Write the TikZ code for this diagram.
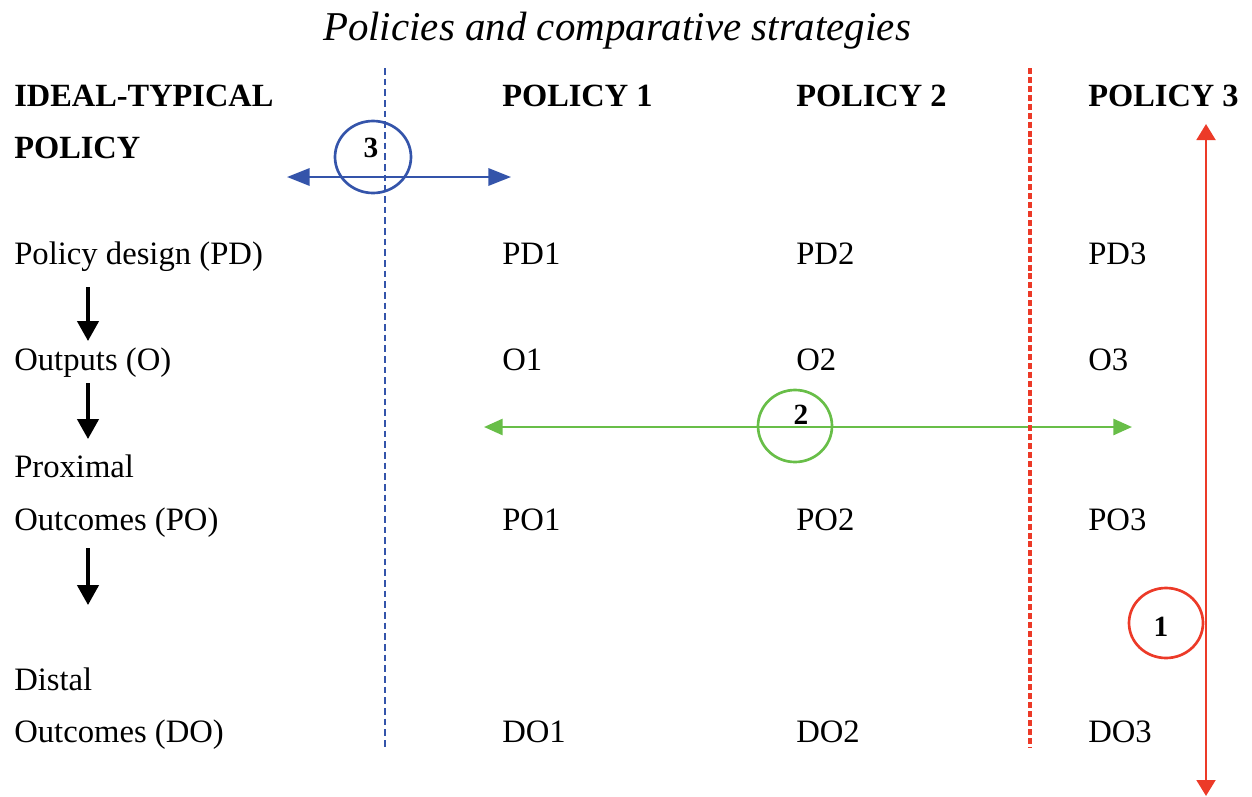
\documentclass[tikz,border=0pt]{standalone}
\usepackage{fontspec}
\setmainfont{Liberation Serif}
\usetikzlibrary{arrows.meta}
\definecolor{bluec}{RGB}{52,84,170}
\definecolor{greenc}{RGB}{104,190,72}
\definecolor{redc}{RGB}{236,58,40}
\tikzset{
  lbl/.style={anchor=base west, inner sep=0pt, font=\fontsize{24.5}{28}\selectfont},
  hdr/.style={anchor=base west, inner sep=0pt, font=\fontsize{24.3}{28}\selectfont\bfseries},
  num/.style={inner sep=0pt, font=\fontsize{22}{26}\selectfont\bfseries},
  flow/.style={line width=2.6pt, -{Triangle[length=15pt,width=16pt]}},
}
\begin{document}
\begin{tikzpicture}[x=0.75pt,y=-0.75pt]
\useasboundingbox (0,0) rectangle (1252,796);
% title
\node[anchor=base, inner sep=0pt, font=\fontsize{30.7}{34}\selectfont\itshape] (title) at (617,40) {Policies and comparative strategies};
% headings
\node[hdr] (h0) at (14,106) {IDEAL-TYPICAL};
\node[hdr] (h0b) at (14,158) {POLICY};
\node[hdr] (h1) at (502,106) {POLICY 1};
\node[hdr] (h2) at (796,106) {POLICY 2};
\node[hdr] (h3) at (1088,106) {POLICY 3};
% rows
\node[lbl] (pd) at (14,264) {Policy design (PD)};
\node[lbl] (o) at (14,370) {Outputs (O)};
\node[lbl] (prox) at (14,477) {Proximal};
\node[lbl] (po) at (14,530) {Outcomes (PO)};
\node[lbl] (dist) at (14,690) {Distal};
\node[lbl] (do) at (14,742) {Outcomes (DO)};
\foreach \c/\x in {1/502,2/796,3/1088}{
  \node[lbl] (pd\c) at (\x,264) {PD\c};
  \node[lbl] (o\c) at (\x,370) {O\c};
  \node[lbl] (po\c) at (\x,530) {PO\c};
  \node[lbl] (do\c) at (\x,742) {DO\c};
}
% black flow arrows
\coordinate (a1s) at (88,287); \coordinate (a1e) at (88,341);
\coordinate (a2s) at (88,383); \coordinate (a2e) at (88,439);
\coordinate (a3s) at (88,548); \coordinate (a3e) at (88,605);
\draw[flow] (a1s) -- (a1e);
\draw[flow] (a2s) -- (a2e);
\draw[flow] (a3s) -- (a3e);
% blue dashed divider and arrow 3
\coordinate (bt) at (385,68); \coordinate (bb) at (385,750);
\draw[bluec, line width=1.6pt, dash pattern=on 5pt off 3pt] (bt) -- (bb);
\coordinate (b3l) at (287,177); \coordinate (b3r) at (511,177);
\draw[bluec, line width=1.8pt, {Triangle[length=17pt,width=13pt]}-{Triangle[length=17pt,width=13pt]}] (b3l) -- (b3r);
\draw[bluec, line width=2pt] (373,157) ellipse [x radius=38, y radius=36];
\node[num] (n3) at (371,148) {3};
% green arrow 2
\coordinate (g2l) at (484,427); \coordinate (g2r) at (1132,427);
\draw[greenc, line width=2pt, {Triangle[length=14pt,width=12pt]}-{Triangle[length=14pt,width=12pt]}] (g2l) -- (g2r);
\draw[greenc, line width=2pt] (795,426) ellipse [x radius=37, y radius=36];
\node[num] (n2) at (801,415) {2};
% red dashed divider and arrow 1
\coordinate (rt) at (1030,68); \coordinate (rb) at (1030,748);
\draw[redc, line width=2.4pt, dash pattern=on 4.5pt off 2.2pt] (rt) -- (rb);
\coordinate (r1t) at (1206,124); \coordinate (r1b) at (1206,796);
\draw[redc, line width=2.2pt, {Triangle[length=12pt,width=14pt]}-{Triangle[length=12pt,width=14pt]}] (r1t) -- (r1b);
\draw[redc, line width=2pt] (1166,623) ellipse [x radius=37, y radius=35];
\node[num] (n1) at (1161,627) {1};
\end{tikzpicture}
\end{document}
